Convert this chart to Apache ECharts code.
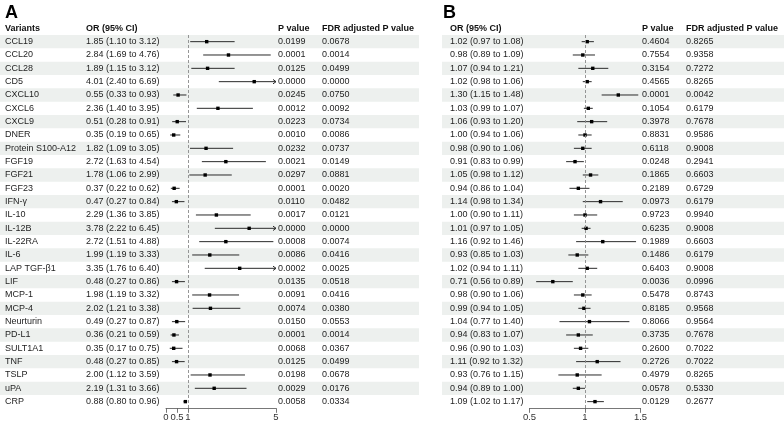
<!DOCTYPE html>
<html><head><meta charset="utf-8">
<script src="https://cdn.jsdelivr.net/npm/echarts@6/dist/echarts.min.js"></script>
<style>html,body{margin:0;padding:0;background:#fff}#c{width:784px;height:423px}</style>
</head><body><div id="c"></div>
<script>
const variants = ['CCL19','CCL20','CCL28','CD5','CXCL10','CXCL6','CXCL9','DNER','Protein S100-A12','FGF19','FGF21','FGF23','IFN-γ','IL-10','IL-12B','IL-22RA','IL-6','LAP TGF-β1','LIF','MCP-1','MCP-4','Neurturin','PD-L1','SULT1A1','TNF','TSLP','uPA','CRP'];

const orA = [1.85,2.84,1.89,4.01,0.55,2.36,0.51,0.35,1.82,2.72,1.78,0.37,0.47,2.29,3.78,2.72,1.99,3.35,0.48,1.98,2.02,0.49,0.36,0.35,0.48,2.00,2.19,0.88];
const loA = [1.10,1.69,1.15,2.40,0.33,1.40,0.28,0.19,1.09,1.63,1.06,0.22,0.27,1.36,2.22,1.51,1.19,1.76,0.27,1.19,1.21,0.27,0.21,0.17,0.27,1.12,1.31,0.80];
const hiA = [3.12,4.76,3.12,6.69,0.93,3.95,0.91,0.65,3.05,4.54,2.99,0.62,0.84,3.85,6.45,4.88,3.33,6.40,0.86,3.32,3.38,0.87,0.59,0.75,0.85,3.59,3.66,0.96];
const pA = ['0.0199','0.0001','0.0125','0.0000','0.0245','0.0012','0.0223','0.0010','0.0232','0.0021','0.0297','0.0001','0.0110','0.0017','0.0000','0.0008','0.0086','0.0002','0.0135','0.0091','0.0074','0.0150','0.0001','0.0068','0.0125','0.0198','0.0029','0.0058'];
const fdrA = ['0.0678','0.0014','0.0499','0.0000','0.0750','0.0092','0.0734','0.0086','0.0737','0.0149','0.0881','0.0020','0.0482','0.0121','0.0000','0.0074','0.0416','0.0025','0.0518','0.0416','0.0380','0.0553','0.0014','0.0367','0.0499','0.0678','0.0176','0.0334'];

const orB = [1.02,0.98,1.07,1.02,1.30,1.03,1.06,1.00,0.98,0.91,1.05,0.94,1.14,1.00,1.01,1.16,0.93,1.02,0.71,0.98,0.99,1.04,0.94,0.96,1.11,0.93,0.94,1.09];
const loB = [0.97,0.89,0.94,0.98,1.15,0.99,0.93,0.94,0.90,0.83,0.98,0.86,0.98,0.90,0.97,0.92,0.85,0.94,0.56,0.90,0.94,0.77,0.83,0.90,0.92,0.76,0.89,1.02];
const hiB = [1.08,1.09,1.21,1.06,1.48,1.07,1.20,1.06,1.06,0.99,1.12,1.04,1.34,1.11,1.05,1.46,1.03,1.11,0.89,1.06,1.05,1.40,1.07,1.03,1.32,1.15,1.00,1.17];
const pB = ['0.4604','0.7554','0.3154','0.4565','0.0001','0.1054','0.3978','0.8831','0.6118','0.0248','0.1865','0.2189','0.0973','0.9723','0.6235','0.1989','0.1486','0.6403','0.0036','0.5478','0.8185','0.8066','0.3735','0.2600','0.2726','0.4979','0.0578','0.0129'];
const fdrB = ['0.8265','0.9358','0.7272','0.8265','0.0042','0.6179','0.7678','0.9586','0.9008','0.2941','0.6603','0.6729','0.6179','0.9940','0.9008','0.6603','0.6179','0.9008','0.0996','0.8743','0.9568','0.9564','0.7678','0.7022','0.7022','0.8265','0.5330','0.2677'];

const ticksA = [0, 0.5, 1, 5];
const ticksB = [0.5, 1, 1.5];
const headersA = ['Variants', 'OR (95% CI)', 'P value', 'FDR adjusted P value'];
const headersB = ['OR (95% CI)', 'P value', 'FDR adjusted P value'];

// ---- layout ----
const FONT = 'Liberation Sans, Arial, Helvetica, sans-serif';
const TXT = '#1e1e1e';
const STRIPE = '#edf0ee';
const rowIdx = variants.map((_, i) => i);
const fmtCI = (o, l, h) => o.toFixed(2) + ' (' + l.toFixed(2) + ' to ' + h.toFixed(2) + ')';

function stripeSeries(gi, x0, x1) {
  return {
    type: 'custom', xAxisIndex: gi, yAxisIndex: gi, z: 0, silent: true, clip: false,
    data: rowIdx.filter(i => i % 2 === 0).map(i => [i]),
    encode: { y: 0 },
    renderItem: (params, api) => {
      const i = api.value(0);
      const y = api.coord([gi === 0 ? 0 : 0.5, i])[1];
      const h = api.size([0, 1])[1];
      return { type: 'rect', shape: { x: x0, y: y - h / 2, width: x1 - x0, height: h }, style: { fill: STRIPE } };
    }
  };
}

function textSeries(gi, cols, colX, headers, headX, xmin) {
  return {
    type: 'custom', xAxisIndex: gi, yAxisIndex: gi, z: 2, silent: true, clip: false,
    data: rowIdx.map(i => [i]),
    encode: { y: 0 },
    renderItem: (params, api) => {
      const i = api.value(0);
      const y = api.coord([xmin, i])[1];
      const h = api.size([0, 1])[1];
      const children = cols.map((c, k) => ({
        type: 'text', x: colX[k], y: y,
        style: { text: c[i], font: '9px ' + FONT, fill: TXT, verticalAlign: 'middle' }
      }));
      if (i === 0) {
        headers.forEach((t, k) => children.push({
          type: 'text', x: headX[k], y: y - h,
          style: { text: t, font: 'bold 9px ' + FONT, fill: '#111', verticalAlign: 'middle' }
        }));
      }
      return { type: 'group', children };
    }
  };
}

function forestSeries(gi, or, lo, hi, xmax, xmin) {
  return {
    type: 'custom', xAxisIndex: gi, yAxisIndex: gi, z: 3, silent: true, clip: false,
    data: rowIdx.map(i => [i, or[i], lo[i], hi[i]]),
    encode: { y: 0, x: [1, 2, 3] },
    renderItem: (params, api) => {
      const i = api.value(0);
      const o = api.value(1), l = api.value(2), hv = api.value(3);
      const pO = api.coord([o, i]);
      const pL = api.coord([Math.max(l, xmin), i]);
      const pH = api.coord([Math.min(hv, xmax), i]);
      const ch = [
        { type: 'line', shape: { x1: pL[0], y1: pL[1], x2: pH[0], y2: pH[1] }, style: { stroke: '#2a2a2a', lineWidth: 1 } }
      ];
      if (hv > xmax) {
        ch.push({ type: 'polyline', shape: { points: [[pH[0] - 3, pH[1] - 2.2], [pH[0], pH[1]], [pH[0] - 3, pH[1] + 2.2]] }, style: { stroke: '#2a2a2a', lineWidth: 1, fill: null } });
      }
      ch.push({ type: 'rect', shape: { x: pO[0] - 1.7, y: pO[1] - 1.7, width: 3.4, height: 3.4 }, style: { fill: '#000' } });
      return { type: 'group', children: ch };
    },
    markLine: {
      silent: true, symbol: 'none', label: { show: false },
      lineStyle: { color: '#8a8a8a', type: [3, 2], width: 0.9 },
      data: [{ xAxis: 1 }]
    }
  };
}

const chart = echarts.init(document.getElementById('c'), null, { renderer: 'canvas' });
const gridTop = 35, gridH = 373.3;
const axisCommon = (min, max, ticks) => ({
  type: 'value', min, max,
  axisLine: { show: true, lineStyle: { color: '#555', width: 0.8 } },
  axisTick: { show: true, length: 4.5, lineStyle: { color: '#555', width: 0.8 }, customValues: ticks },
  axisLabel: { show: true, customValues: ticks, fontSize: 9.5, color: '#333', margin: 4, fontFamily: FONT },
  splitLine: { show: false }
});

chart.setOption({
  animation: false,
  graphic: [
    { type: 'text', left: 5, top: 4, style: { text: 'A', font: 'bold 18px ' + FONT, fill: '#000' } },
    { type: 'text', left: 443, top: 4, style: { text: 'B', font: 'bold 18px ' + FONT, fill: '#000' } }
  ],
  grid: [
    { left: 166, width: 110, top: gridTop, height: gridH },
    { left: 529.5, width: 111, top: gridTop, height: gridH }
  ],
  xAxis: [
    Object.assign({ gridIndex: 0 }, axisCommon(0, 5, ticksA)),
    Object.assign({ gridIndex: 1 }, axisCommon(0.5, 1.5, ticksB))
  ],
  yAxis: [
    { gridIndex: 0, type: 'category', data: variants, inverse: true, show: false },
    { gridIndex: 1, type: 'category', data: variants, inverse: true, show: false }
  ],
  series: [
    stripeSeries(0, 0, 419),
    stripeSeries(1, 442, 784),
    textSeries(0, [variants, rowIdx.map(i => fmtCI(orA[i], loA[i], hiA[i])), pA, fdrA], [5, 86, 278, 322], headersA, [5, 86, 278, 322], 0),
    textSeries(1, [rowIdx.map(i => fmtCI(orB[i], loB[i], hiB[i])), pB, fdrB], [450, 642, 686], headersB, [450, 642, 686], 0.5),
    forestSeries(0, orA, loA, hiA, 5, 0),
    forestSeries(1, orB, loB, hiB, 1.5, 0.5)
  ]
});
</script></body></html>
